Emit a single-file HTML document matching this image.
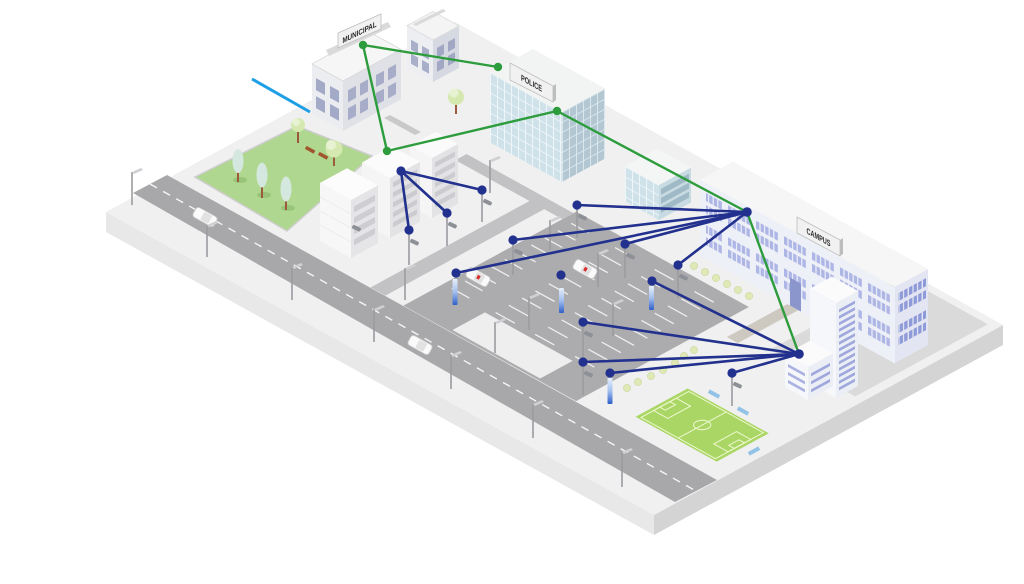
<!DOCTYPE html>
<html><head><meta charset="utf-8">
<style>
html,body{margin:0;padding:0;background:#ffffff;width:1024px;height:584px;overflow:hidden;}
svg{display:block;}
.lbl{font-family:"Liberation Sans",sans-serif;font-weight:bold;fill:#2b2b2b;}
</style></head><body>
<svg width="1024" height="584" viewBox="0 0 1024 584" xmlns="http://www.w3.org/2000/svg">
<defs>
<pattern id="gL" width="7" height="10" patternUnits="userSpaceOnUse"><rect width="7" height="10" fill="#cfe2e9"/><rect width="0.9" height="10" fill="#f1f7f9"/><rect width="7" height="0.9" fill="#f1f7f9"/></pattern>
<pattern id="gR" width="7" height="10" patternUnits="userSpaceOnUse"><rect width="7" height="10" fill="#b3c7d2"/><rect width="0.9" height="10" fill="#dfeaef"/><rect width="7" height="0.9" fill="#dfeaef"/></pattern>
<pattern id="wL" width="28" height="8" patternUnits="userSpaceOnUse"><rect x="0" width="3.4" height="8" fill="#aeb6e6"/><rect x="4.6" width="3.4" height="8" fill="#aeb6e6"/><rect x="9.2" width="3.4" height="8" fill="#aeb6e6"/><rect x="13.8" width="3.4" height="8" fill="#aeb6e6"/><rect x="18.4" width="3.4" height="8" fill="#aeb6e6"/></pattern>
<pattern id="wR" width="14" height="8" patternUnits="userSpaceOnUse"><rect x="0" width="3.4" height="8" fill="#8f9bd8"/><rect x="4.6" width="3.4" height="8" fill="#8f9bd8"/><rect x="9.2" width="3.4" height="8" fill="#8f9bd8"/></pattern>
<linearGradient id="sg" x1="0" y1="0" x2="0" y2="1"><stop offset="0" stop-color="#e8f0fc"/><stop offset="0.5" stop-color="#a3bfee"/><stop offset="1" stop-color="#2f5fc9"/></linearGradient>
</defs>

<!-- slab -->
<polygon points="106,212 654,515 654,535 106,232" fill="#e8e8e8"/>
<polygon points="654,515 1003,325 1003,345 654,535" fill="#d4d4d4"/>
<polygon points="106,212 455,22 1003,325 654,515" fill="#f0f0f0"/>

<!-- iso ground features -->
<g transform="matrix(0.548,0.303,0.349,-0.19,106,212)">
 <polygon points="830,600 985,600 985,980 830,980" fill="#dadada"/>
 <polygon points="425,185 740,185 740,680 425,680" fill="#acacae"/>
 <polygon points="510,192 670,192 670,285 510,285" fill="#eeeeee"/>
 <polygon points="365,185 392,185 392,660 365,660" fill="#c2c2c4"/>
 <polygon points="230,640 425,640 425,672 230,672" fill="#c2c2c4"/>
 <polygon points="770,570 790,570 790,745 770,745" fill="#cdc9c0"/>
 <path d="M440 300h32M440 338h32M440 376h32M440 414h32M440 452h32M440 490h32M440 528h32M440 566h32M440 604h32M440 642h32
 M520 300h35M520 338h35M520 376h35M520 414h35M520 452h35M520 490h35M520 528h35M520 566h35M520 604h35M520 642h35
 M592 300h35M592 338h35M592 376h35M592 414h35M592 452h35M592 490h35M592 528h35M592 566h35M592 604h35M592 642h35
 M665 300h35M665 338h35M665 376h35M665 414h35M665 452h35M665 490h35M665 528h35M665 566h35M665 604h35M665 642h35" stroke="#ededed" stroke-width="1.3" fill="none" vector-effect="non-scaling-stroke"/>
 <!-- soccer field -->
 <rect x="820" y="230" width="148" height="149" fill="#aad665"/>
 <g fill="none" stroke="#eef7cf" stroke-width="1" vector-effect="non-scaling-stroke">
  <rect x="826" y="236" width="136" height="137" vector-effect="non-scaling-stroke"/>
  <path d="M894 236V373" vector-effect="non-scaling-stroke"/>
  <ellipse cx="894" cy="304.5" rx="11" ry="17.6" vector-effect="non-scaling-stroke"/>
  <rect x="826" y="272" width="26" height="65" vector-effect="non-scaling-stroke"/>
  <rect x="936" y="272" width="26" height="65" vector-effect="non-scaling-stroke"/>
  <rect x="826" y="290" width="10" height="29" vector-effect="non-scaling-stroke"/>
  <rect x="952" y="290" width="10" height="29" vector-effect="non-scaling-stroke"/>
 </g>
</g>

<!-- main road -->
<polygon points="133,193 167,175 717,480 675,502" fill="#a8a8aa"/>
<line x1="150" y1="184" x2="696" y2="491" stroke="#f5f5f5" stroke-width="1.4" stroke-dasharray="8 7"/>

<!-- lawn -->
<polygon points="195,177 297,126 372,156 287,231" fill="#b0d78f" stroke="#cdcdcd" stroke-width="1.5"/>
<!-- walkway near municipal -->
<polygon points="384,118 390,115 421,132 415,135" fill="#c9c9c9"/>

<!-- lawn trees -->
<g>
 <ellipse cx="240" cy="180" rx="7" ry="3" fill="#98c479"/>
 <line x1="238" y1="168" x2="238" y2="182" stroke="#9b5a3c" stroke-width="2"/>
 <ellipse cx="238" cy="161" rx="5.5" ry="12" fill="#d5e8e0"/>
 <ellipse cx="264" cy="195" rx="7" ry="3" fill="#98c479"/>
 <line x1="262" y1="182" x2="262" y2="198" stroke="#9b5a3c" stroke-width="2"/>
 <ellipse cx="262" cy="175" rx="5.5" ry="12.5" fill="#d5e8e0"/>
 <ellipse cx="288" cy="208" rx="7" ry="3" fill="#98c479"/>
 <line x1="286" y1="195" x2="286" y2="210" stroke="#9b5a3c" stroke-width="2"/>
 <ellipse cx="286" cy="189" rx="5.5" ry="12.5" fill="#d5e8e0"/>
 <line x1="298" y1="130" x2="298" y2="143" stroke="#9b5a3c" stroke-width="2"/>
 <circle cx="298" cy="125" r="7" fill="#d4e8b0"/><circle cx="296" cy="122" r="4" fill="#e6f2d2"/>
 <line x1="334" y1="155" x2="334" y2="166" stroke="#9b5a3c" stroke-width="2"/>
 <circle cx="334" cy="149" r="8.5" fill="#d4e8b0"/><circle cx="331" cy="145" r="5" fill="#e6f2d2"/>
 <rect x="305" y="148" width="10" height="3.5" fill="#a0552e" transform="rotate(29 310 150)"/>
 <rect x="318" y="154" width="10" height="3.5" fill="#a0552e" transform="rotate(29 323 156)"/>
</g>

<!-- cars -->
<g transform="translate(205,217) rotate(29)"><rect x="-12" y="-5.5" width="24" height="11" rx="3" fill="#fafafa" stroke="#c8c8c8" stroke-width="0.8"/><rect x="-3" y="-4.5" width="9" height="9" rx="1.5" fill="#e2e2e2"/></g>
<g transform="translate(420,345) rotate(29)"><rect x="-12" y="-5.5" width="24" height="11" rx="3" fill="#fafafa" stroke="#c8c8c8" stroke-width="0.8"/><rect x="-3" y="-4.5" width="9" height="9" rx="1.5" fill="#e2e2e2"/></g>
<g transform="translate(478,277) rotate(29)"><rect x="-12" y="-5.5" width="24" height="11" rx="3" fill="#fafafa" stroke="#c8c8c8" stroke-width="0.8"/><rect x="-3" y="-4.5" width="9" height="9" rx="1.5" fill="#e2e2e2"/><rect x="-1" y="-2" width="3" height="4" fill="#d9302c"/></g>
<g transform="translate(585,269) rotate(29)"><rect x="-12" y="-5.5" width="24" height="11" rx="3" fill="#fafafa" stroke="#c8c8c8" stroke-width="0.8"/><rect x="-3" y="-4.5" width="9" height="9" rx="1.5" fill="#e2e2e2"/><rect x="-1" y="-2" width="3" height="4" fill="#d9302c"/></g>

<!-- cones / bushes -->
<g fill="#dfe9b6" stroke="#c8d59a" stroke-width="0.6">
 <circle cx="694" cy="266" r="3.6"/><circle cx="705" cy="272" r="3.6"/><circle cx="716" cy="278" r="3.6"/><circle cx="727" cy="284" r="3.6"/><circle cx="738" cy="290" r="3.6"/><circle cx="749" cy="296" r="3.6"/>
 <circle cx="627" cy="388" r="3.6"/><circle cx="638" cy="382" r="3.6"/><circle cx="651" cy="376" r="3.6"/><circle cx="663" cy="370" r="3.6"/><circle cx="675" cy="363" r="3.6"/><circle cx="684" cy="356" r="3.6"/><circle cx="694" cy="350" r="3.6"/>
</g>
<!-- benches -->
<g fill="#92c3e6">
 <rect x="708" y="392" width="12" height="4" transform="rotate(29 714 394)"/>
 <rect x="737" y="409" width="12" height="4" transform="rotate(29 743 411)"/>
 <rect x="748" y="449" width="12" height="4" transform="rotate(-29 754 451)"/>
</g>

<!-- back municipal building -->
<polygon points="407,25.6 433,40 433,82 407,67.6" fill="#eceef2"/>
<g transform="matrix(1,0.553,0,1,407,25.6)" fill="#a9afc9"><rect x="4" y="12" width="7" height="10"/><rect x="15" y="12" width="7" height="10"/><rect x="4" y="26" width="7" height="10"/><rect x="15" y="26" width="7" height="10"/></g>
<polygon points="433,40 459,25.9 459,67.9 433,82" fill="#d6d9e1"/>
<g transform="matrix(1,-0.544,0,1,433,40)" fill="#a2a8c4"><rect x="4" y="10" width="7" height="10"/><rect x="15" y="10" width="7" height="10"/><rect x="4" y="24" width="7" height="10"/><rect x="15" y="24" width="7" height="10"/></g>
<polygon points="407,25.6 433,40 459,25.9 433,11.5" fill="#f4f4f4" stroke="#dcdcdc" stroke-width="0.8"/>
<polygon points="413,24 443,9 446,11 416,26" fill="#d9d9d9"/>

<!-- municipal -->
<polygon points="312,63.9 343,81 343,131 312,113.9" fill="#ebedf1"/>
<g transform="matrix(1,0.553,0,1,312,63.9)" fill="#a3aac8"><rect x="4" y="12" width="9" height="12"/><rect x="18" y="12" width="9" height="12"/><rect x="4" y="30" width="9" height="12"/><rect x="18" y="30" width="9" height="12"/></g>
<polygon points="343,81 401,49.4 401,99.4 343,131" fill="#dfe1e7"/>
<g transform="matrix(1,-0.544,0,1,343,81)" fill="#a7adc9"><rect x="5" y="12" width="8" height="12"/><rect x="17" y="12" width="8" height="12"/><rect x="33" y="12" width="8" height="12"/><rect x="45" y="12" width="8" height="12"/><rect x="5" y="30" width="8" height="12"/><rect x="17" y="30" width="8" height="12"/><rect x="33" y="30" width="8" height="12"/><rect x="45" y="30" width="8" height="12"/></g>
<polygon points="312,63.9 343,81 401,49.4 370,32.3" fill="#f6f6f6" stroke="#d8d8d8" stroke-width="0.8"/>
<polygon points="326,50 388,22 391,27 329,56" fill="#dadada"/>
<polygon points="338,33 381,14 381,29 338,48" fill="#f1f1f1" stroke="#bdbdbd" stroke-width="0.8"/>
<text class="lbl" transform="matrix(1,-0.5,0,1,359.5,35)" x="0" y="0" font-size="8" text-anchor="middle" textLength="34" lengthAdjust="spacingAndGlyphs">MUNICIPAL</text>

<!-- tree near police -->
<line x1="456" y1="104" x2="456" y2="114" stroke="#9b5a3c" stroke-width="2"/>
<circle cx="456" cy="97" r="8" fill="#d4e8b0"/><circle cx="454" cy="93" r="4.5" fill="#e6f2d2"/>

<!-- police -->
<g transform="matrix(1,0.553,0,1,490,72.4)"><rect width="72" height="70" fill="url(#gL)"/></g>
<g transform="matrix(1,-0.544,0,1,562,112)"><rect width="43" height="70" fill="url(#gR)"/></g>
<polygon points="490,72.4 562,112 605,88.4 533,49" fill="#f2f3f3"/>
<polygon points="510,63 553,86 553,102 510,80" fill="#f1f1f1" stroke="#bdbdbd" stroke-width="0.8"/>
<polygon points="553,86 556,84 556,100 553,102" fill="#bdbdbd"/>
<text class="lbl" transform="matrix(1,0.553,0,1,531.5,86)" x="0" y="0" font-size="8.5" text-anchor="middle" textLength="21" lengthAdjust="spacingAndGlyphs">POLICE</text>

<!-- central buildings -->
<polygon points="410,145.8 432,158 432,218 410,205.8" fill="#f5f5f5"/>
<polygon points="432,158 458,143.9 458,203.9 432,218" fill="#e3e3e5"/>
<g transform="matrix(1,-0.544,0,1,432,158)" fill="#cbcbd0"><rect x="3" y="6" width="20" height="5"/><rect x="3" y="16" width="20" height="5"/><rect x="3" y="26" width="20" height="5"/><rect x="3" y="36" width="20" height="5"/><rect x="3" y="46" width="20" height="5"/></g>
<polygon points="410,145.8 432,158 458,143.9 436,131.7" fill="#fafafa"/>

<polygon points="362,162.5 390,178 390,238 362,222.5" fill="#f5f5f5"/>
<polygon points="390,178 420,161.7 420,221.7 390,238" fill="#e3e3e5"/>
<g transform="matrix(1,-0.544,0,1,390,178)" fill="#cbcbd0"><rect x="3" y="6" width="24" height="5"/><rect x="3" y="16" width="24" height="5"/><rect x="3" y="26" width="24" height="5"/><rect x="3" y="36" width="24" height="5"/><rect x="3" y="46" width="24" height="5"/></g>
<polygon points="362,162.5 390,178 420,161.7 392,146.2" fill="#fbfbfb"/>

<polygon points="320,182.9 351,200 351,258 320,240.9" fill="#f7f7f7"/>
<g transform="matrix(1,0.553,0,1,320,182.9)" stroke="#e9e9e9" stroke-width="0.8"><line x1="0" y1="14" x2="31" y2="14"/><line x1="0" y1="28" x2="31" y2="28"/><line x1="0" y1="42" x2="31" y2="42"/></g>
<polygon points="351,200 378,185.3 378,243.3 351,258" fill="#e5e5e7"/>
<g transform="matrix(1,-0.544,0,1,351,200)" fill="#cdcdd2"><rect x="3" y="8" width="21" height="6"/><rect x="3" y="19" width="21" height="6"/><rect x="3" y="30" width="21" height="6"/><rect x="3" y="41" width="21" height="6"/></g>
<polygon points="320,182.9 351,200 378,185.3 347,168.2" fill="#fcfcfc"/>
<rect x="352" y="226" width="9" height="4" rx="1.5" fill="#8e9097" transform="rotate(25 356 228)"/>

<!-- small glass building -->
<g transform="matrix(1,0.553,0,1,625,166.2)"><rect width="34" height="35" fill="url(#gL)"/></g>
<polygon points="659,185 691,167.6 691,202.6 659,220" fill="#c9dbe2"/>
<g transform="matrix(1,-0.544,0,1,659,185)" fill="#9fbac6"><rect x="2" y="5" width="28" height="6"/><rect x="2" y="14" width="28" height="6"/><rect x="2" y="23" width="28" height="6"/></g>
<polygon points="625,166.2 659,185 691,167.6 657,148.8" fill="#f4f5f5"/>

<!-- campus -->
<g transform="matrix(1,0.553,0,1,700,179.75)">
 <rect width="195" height="76" fill="#eef0f8"/>
 <rect x="6" y="10" width="186" height="8" fill="url(#wL)"/>
 <rect x="6" y="22" width="186" height="8" fill="url(#wL)"/>
 <rect x="6" y="42" width="186" height="8" fill="url(#wL)"/>
 <rect x="6" y="54" width="186" height="8" fill="url(#wL)"/>
 <rect x="90" y="48" width="11" height="28" fill="#8b97cc"/>
</g>
<g transform="matrix(1,-0.544,0,1,895,287)">
 <rect width="33" height="76" fill="#e3e6f2"/>
 <rect x="3" y="8" width="28" height="8" fill="url(#wR)"/>
 <rect x="3" y="20" width="28" height="8" fill="url(#wR)"/>
 <rect x="3" y="40" width="28" height="8" fill="url(#wR)"/>
 <rect x="3" y="52" width="28" height="8" fill="url(#wR)"/>
</g>
<polygon points="700,179.75 895,287 928,268.85 733,161.6" fill="#f6f6f7"/>
<polygon points="797,217 840,240 840,256 797,233" fill="#f1f1f1" stroke="#bdbdbd" stroke-width="0.8"/>
<polygon points="840,240 843,238 843,254 840,256" fill="#bdbdbd"/>
<text class="lbl" transform="matrix(1,0.553,0,1,818.5,240)" x="0" y="0" font-size="8.5" text-anchor="middle" textLength="24" lengthAdjust="spacingAndGlyphs">CAMPUS</text>

<!-- tower -->
<polygon points="810,288.6 836,303 836,398 810,383.6" fill="#f6f7fa"/>
<polygon points="836,303 858,291 858,386 836,398" fill="#eceef6"/>
<g transform="matrix(1,-0.544,0,1,836,303)" fill="#9fa8dd">
 <rect x="3" y="8" width="16" height="3"/><rect x="3" y="14.5" width="16" height="3"/><rect x="3" y="21" width="16" height="3"/><rect x="3" y="27.5" width="16" height="3"/><rect x="3" y="34" width="16" height="3"/><rect x="3" y="40.5" width="16" height="3"/><rect x="3" y="47" width="16" height="3"/><rect x="3" y="53.5" width="16" height="3"/><rect x="3" y="60" width="16" height="3"/><rect x="3" y="66.5" width="16" height="3"/><rect x="3" y="73" width="16" height="3"/><rect x="3" y="79.5" width="16" height="3"/><rect x="3" y="86" width="16" height="3"/>
</g>
<polygon points="810,288.6 836,303 858,291 832,276.6" fill="#fbfbfb"/>

<!-- front block -->
<polygon points="785,354.3 808,367 808,400 785,387.3" fill="#f6f7fa"/>
<g transform="matrix(1,0.553,0,1,785,354.3)" fill="#aab2e2"><rect x="3" y="8" width="17" height="3"/><rect x="3" y="16" width="17" height="3"/><rect x="3" y="24" width="17" height="3"/></g>
<polygon points="808,367 833,353.4 833,386.4 808,400" fill="#eceef6"/>
<g transform="matrix(1,-0.544,0,1,808,367)" fill="#9fa8dd"><rect x="3" y="8" width="19" height="3"/><rect x="3" y="16" width="19" height="3"/><rect x="3" y="24" width="19" height="3"/></g>
<polygon points="785,354.3 808,367 833,353.4 810,340.7" fill="#fbfbfb"/>

<!-- lamp posts and camera poles -->
<path d="M132 172V205M207 225V257M292 267V300M374 309V342M451 355V389M533 404V438M622 452V487M405 268V300M495 322V353M550 220V250M598 253V287M529 297V330M613 303V336M490 160V193
M409 230V265M447 213V246M482 190V222M577 205V238M513 240V275M625 244V278M678 265V298M583 322V357M583 362V395M732 373V406" stroke="#9c9ca0" stroke-width="1.6" fill="none"/>
<g fill="#d0d0d4">
 <polygon points="132,172 141,168 143,170 134,174"/><polygon points="207,225 216,221 218,223 209,227"/><polygon points="292,267 301,263 303,265 294,269"/><polygon points="374,309 383,305 385,307 376,311"/><polygon points="451,355 460,351 462,353 453,357"/><polygon points="533,404 542,400 544,402 535,406"/><polygon points="622,452 631,448 633,450 624,454"/><polygon points="405,268 414,264 416,266 407,270"/><polygon points="495,322 504,318 506,320 497,324"/><polygon points="550,220 559,216 561,218 552,222"/><polygon points="598,253 607,249 609,251 600,255"/><polygon points="529,297 538,293 540,295 531,299"/><polygon points="613,303 622,299 624,301 615,305"/><polygon points="490,160 499,156 501,158 492,162"/>
</g>
<g fill="#8e9097">
 <rect x="410" y="240" width="9" height="4" rx="1.5" transform="rotate(25 414 242)"/>
 <rect x="448" y="223" width="9" height="4" rx="1.5" transform="rotate(25 452 225)"/>
 <rect x="483" y="200" width="9" height="4" rx="1.5" transform="rotate(25 487 202)"/>
 <rect x="578" y="215" width="9" height="4" rx="1.5" transform="rotate(25 582 217)"/>
 <rect x="514" y="250" width="9" height="4" rx="1.5" transform="rotate(25 518 252)"/>
 <rect x="626" y="254" width="9" height="4" rx="1.5" transform="rotate(25 630 256)"/>
 <rect x="679" y="275" width="9" height="4" rx="1.5" transform="rotate(25 683 277)"/>
 <rect x="584" y="332" width="9" height="4" rx="1.5" transform="rotate(25 588 334)"/>
 <rect x="584" y="372" width="9" height="4" rx="1.5" transform="rotate(25 588 374)"/>
 <rect x="733" y="383" width="9" height="4" rx="1.5" transform="rotate(25 737 385)"/>
</g>
<!-- blue signs -->
<g fill="url(#sg)">
 <rect x="452.5" y="279" width="5" height="26" rx="1"/>
 <rect x="559" y="288" width="5" height="25" rx="1"/>
 <rect x="649" y="286" width="5" height="24" rx="1"/>
 <rect x="607.5" y="378" width="5" height="26" rx="1"/>
</g>

<!-- light blue line -->
<line x1="252" y1="79" x2="310" y2="112" stroke="#1e9fe5" stroke-width="3"/>

<!-- green links -->
<g stroke="#2d9c3c" stroke-width="2.4" fill="none" stroke-linecap="round">
 <line x1="363" y1="45" x2="498" y2="67"/>
 <line x1="363" y1="45" x2="387" y2="151"/>
 <line x1="387" y1="151" x2="557" y2="111"/>
 <line x1="557" y1="111" x2="747" y2="212"/>
 <line x1="747" y1="212" x2="799" y2="354"/>
</g>
<!-- blue links -->
<g stroke="#22308e" stroke-width="2.6" fill="none" stroke-linecap="round">
 <line x1="401" y1="171" x2="409" y2="230"/>
 <line x1="401" y1="171" x2="447" y2="213"/>
 <line x1="401" y1="171" x2="482" y2="190"/>
 <line x1="747" y1="212" x2="577" y2="205"/>
 <line x1="747" y1="212" x2="513" y2="240"/>
 <line x1="747" y1="212" x2="456" y2="273"/>
 <line x1="747" y1="212" x2="625" y2="244"/>
 <line x1="747" y1="212" x2="678" y2="265"/>
 <line x1="799" y1="354" x2="652" y2="281"/>
 <line x1="799" y1="354" x2="583" y2="322"/>
 <line x1="799" y1="354" x2="583" y2="362"/>
 <line x1="799" y1="354" x2="610" y2="373"/>
 <line x1="799" y1="354" x2="732" y2="373"/>
</g>
<!-- nodes -->
<g fill="#2d9c3c">
 <circle cx="363" cy="45" r="4.2"/><circle cx="498" cy="67" r="4.2"/><circle cx="557" cy="111" r="4.2"/><circle cx="387" cy="151" r="4.2"/>
</g>
<g fill="#22308e">
 <circle cx="401" cy="171" r="4.6"/><circle cx="409" cy="230" r="4.6"/><circle cx="447" cy="213" r="4.6"/><circle cx="482" cy="190" r="4.6"/>
 <circle cx="747" cy="212" r="4.8"/><circle cx="577" cy="205" r="4.6"/><circle cx="513" cy="240" r="4.6"/><circle cx="456" cy="273" r="4.6"/><circle cx="625" cy="244" r="4.6"/><circle cx="678" cy="265" r="4.6"/>
 <circle cx="799" cy="354" r="4.8"/><circle cx="652" cy="281" r="4.6"/><circle cx="583" cy="322" r="4.6"/><circle cx="583" cy="362" r="4.6"/><circle cx="610" cy="373" r="4.6"/><circle cx="732" cy="373" r="4.6"/>
 <circle cx="561" cy="275" r="4.6"/>
</g>
</svg>
</body></html>
